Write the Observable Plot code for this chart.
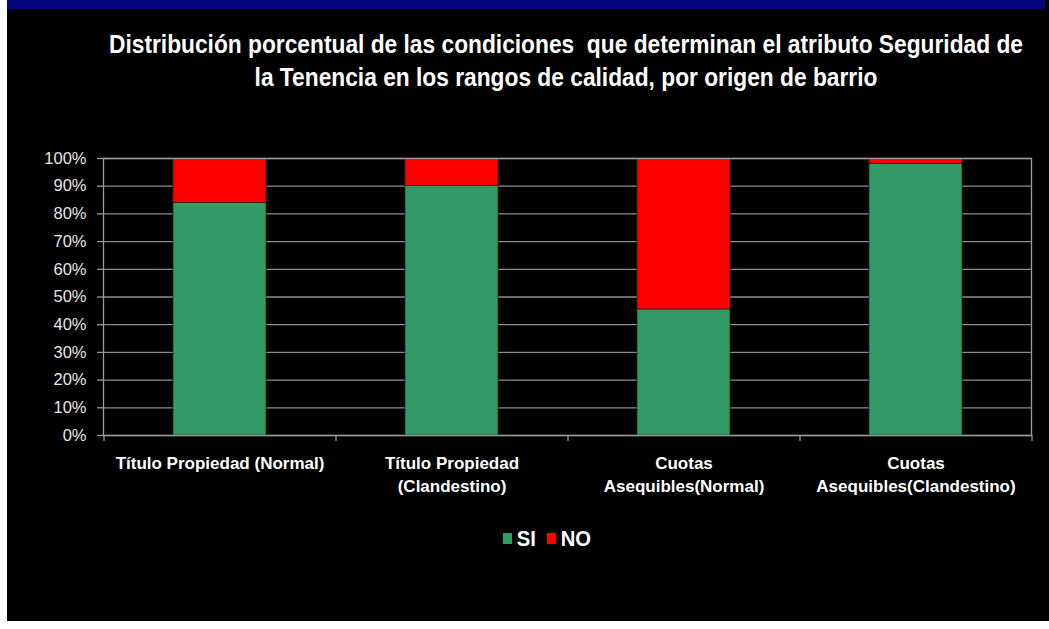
<!DOCTYPE html>
<html>
<head>
<meta charset="utf-8">
<script src="https://cdn.jsdelivr.net/npm/d3@7"></script>
<script src="https://cdn.jsdelivr.net/npm/@observablehq/plot@0.6"></script>
<style>
  html, body { margin: 0; padding: 0; background: #ffffff; width: 1049px; height: 629px; overflow: hidden; }
  #panel { position: absolute; left: 7px; top: 0; width: 1042px; height: 621px; background: #000000; }
  #topbar { position: absolute; left: 7px; top: 0; width: 1038px; height: 9px; background: #06067e; }
  #title { position: absolute; left: 16px; width: 1100px; top: 28px; text-align: center; color: #ffffff; white-space: nowrap;
    font-family: "Liberation Sans", Arial, sans-serif;
    font-weight: bold; font-size: 25px; line-height: 33px; transform: scaleX(0.91); transform-origin: 550px 0; }
  #chart { position: absolute; left: 0; top: 140px; }
  #legend { position: absolute; top: 526px; left: 0; width: 1094px; text-align: center; color: #ffffff; white-space: nowrap;
    font-family: "Liberation Sans", Arial, sans-serif;
    font-weight: bold; font-size: 22px; transform: scaleX(0.92); transform-origin: 547px 0; }
  .sw { display: inline-block; width: 10px; height: 11px; margin-right: 5px; vertical-align: 2px; }
  .item { margin: 0 6px; }
</style>
</head>
<body>
<div id="panel"></div>
<div id="topbar"></div>
<div id="title">Distribución porcentual de las condiciones&nbsp; que determinan el atributo Seguridad de<br>la Tenencia en los rangos de calidad, por origen de barrio</div>
<div id="chart"></div>
<div id="legend"></div>
<script>
const categories = ["Título Propiedad (Normal)", "Título Propiedad\n(Clandestino)", "Cuotas\nAsequibles(Normal)", "Cuotas\nAsequibles(Clandestino)"];
const series = ["SI", "NO"];
const siValues = [84, 90, 45.5, 98];
const noValues = [16, 10, 54.5, 2];
const seriesColors = ["#339966", "#ff0000"];
const yTicks = [0, 10, 20, 30, 40, 50, 60, 70, 80, 90, 100];

const rows = [];
categories.forEach((c, i) => {
  rows.push({cat: c, serie: "SI", value: siValues[i]});
  rows.push({cat: c, serie: "NO", value: noValues[i]});
});

function build(step) {
  return Plot.plot({
    width: 1049,
    height: 360,
    marginLeft: 103,
    marginRight: 18,
    marginTop: 18,
    marginBottom: 65,
    style: {background: "transparent", color: "#ffffff", fontFamily: "'Liberation Sans', Arial, sans-serif", overflow: "visible"},
    x: {type: "band", domain: categories, paddingInner: 0.6, paddingOuter: 0.3, axis: null},
    y: {domain: [0, 100], axis: null},
    color: {domain: series, range: seriesColors},
    marks: [
      Plot.ruleY(yTicks, {y: d => d, stroke: "#8c8c8c", strokeWidth: 1.3}),
      Plot.barY(rows, {x: "cat", y: "value", fill: "serie", order: series, stroke: "#1a1a1a", strokeWidth: 0.6}),
      Plot.frame({stroke: "#9a9a9a", strokeWidth: 1.3}),
      Plot.axisY(yTicks, {tickSize: 6, tickPadding: 11, tickFormat: d => d + "%", stroke: "#9a9a9a",
        fill: "#e6e6e6", fontSize: 16.5, strokeWidth: 1.3, label: null}),
      Plot.ruleX(categories, {x: d => d, y1: 0, y2: 0, insetBottom: -6, dx: -step / 2, stroke: "#9a9a9a", strokeWidth: 1.3}),
      Plot.ruleX([categories[categories.length - 1]], {x: d => d, y1: 0, y2: 0, insetBottom: -6, dx: step / 2, stroke: "#9a9a9a", strokeWidth: 1.3}),
      Plot.axisX({tickSize: 0, tickPadding: 17, fontSize: 17, fontWeight: "bold", fill: "#ffffff",
        lineHeight: 1.35, label: null})
    ]
  });
}

const first = build(0);
const step = first.scale("x").step;
const plot = build(step);
document.getElementById("chart").appendChild(plot);

const legend = document.getElementById("legend");
series.forEach((s, i) => {
  const span = document.createElement("span");
  span.className = "item";
  span.innerHTML = `<span class="sw" style="background:${seriesColors[i]}"></span>${s}`;
  legend.appendChild(span);
});
</script>
</body>
</html>
